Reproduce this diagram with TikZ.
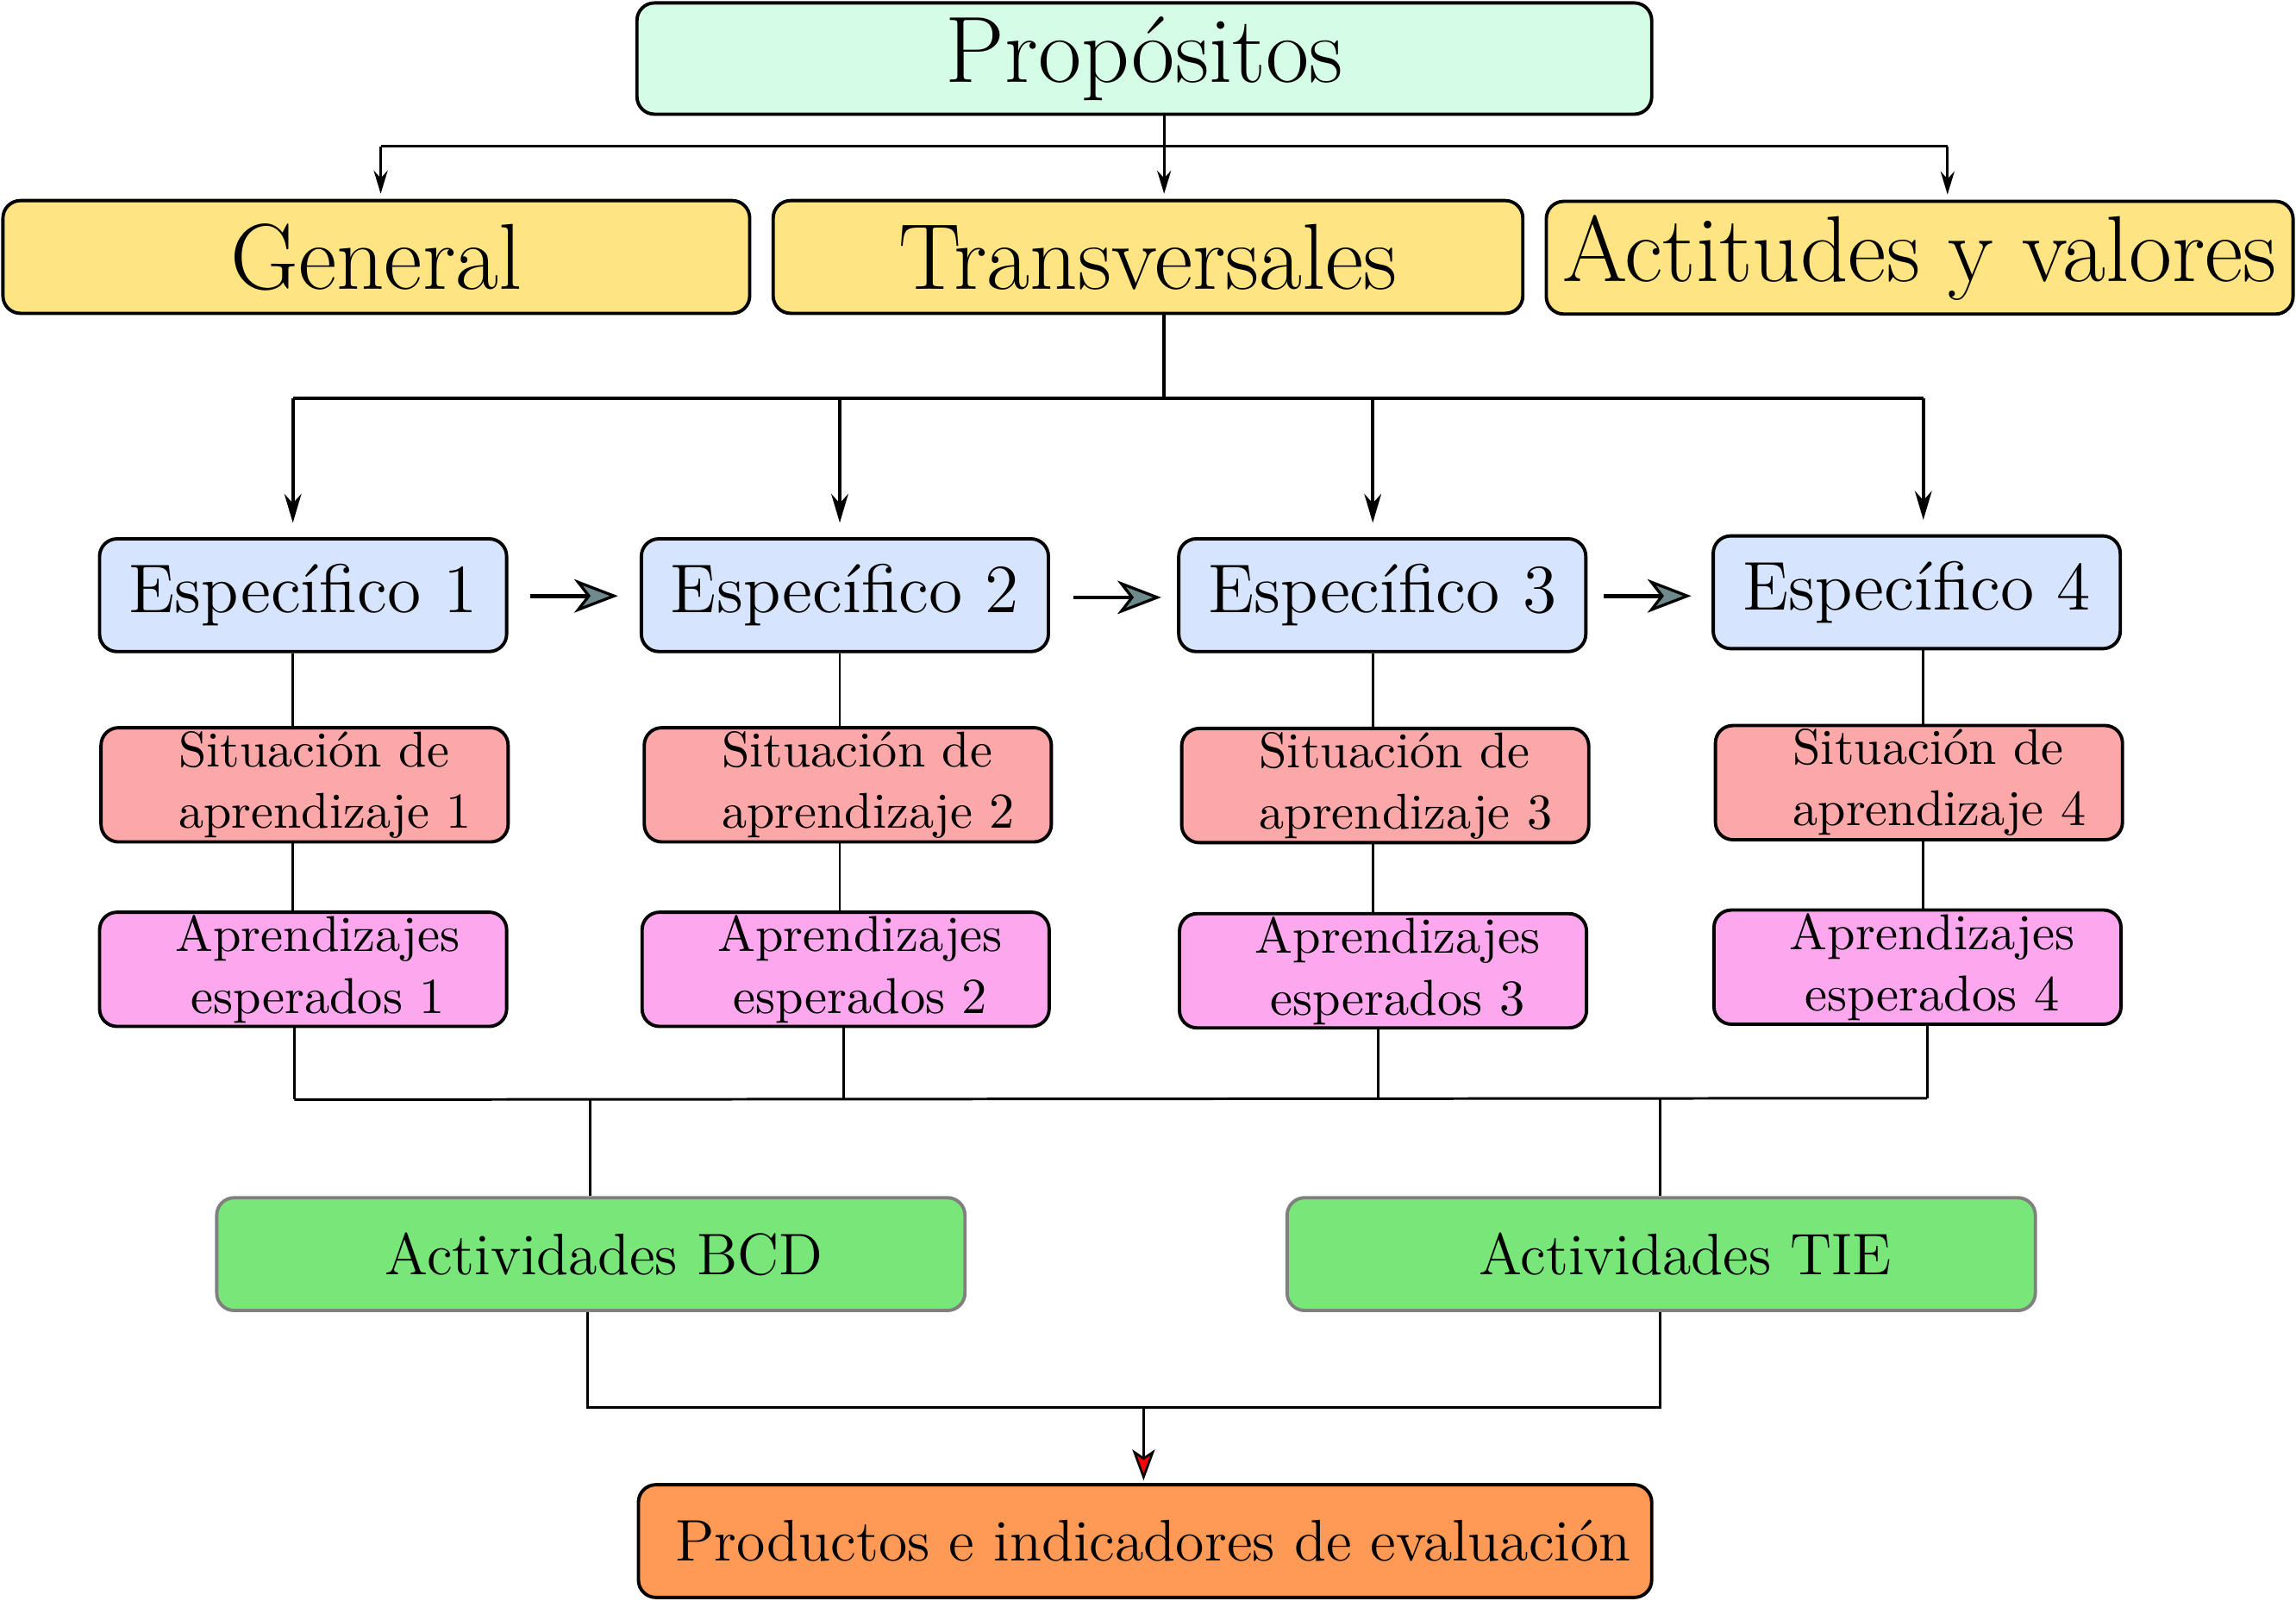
\documentclass[tikz,border=0pt]{standalone}
\usetikzlibrary{arrows.meta}
\definecolor{cprop}{HTML}{D5FDE6}
\definecolor{cyel}{HTML}{FEE482}
\definecolor{cblue}{HTML}{D6E4FD}
\definecolor{csit}{HTML}{FDA8A8}
\definecolor{capr}{HTML}{FDA8EE}
\definecolor{cgreen}{HTML}{78E678}
\definecolor{corange}{HTML}{FE9A55}
\definecolor{carrgray}{HTML}{6E8A8C}
\begin{document}
\begin{tikzpicture}[x=0.1mm,y=-0.1mm,
  bx/.style={draw, rounded corners=3.4pt, line width=0.65pt, inner sep=0pt, align=center},
  topbox/.style={bx, fill=cyel, minimum width=51mm, minimum height=7.7mm, font=\fontsize{18.2}{21}\selectfont},
  espbox/.style={bx, fill=cblue, minimum width=27.8mm, minimum height=7.7mm, font=\fontsize{13.4}{16}\selectfont},
  sitbox/.style={bx, fill=csit, minimum width=27.8mm, minimum height=7.8mm},
  aprbox/.style={bx, fill=capr, minimum width=27.8mm, minimum height=7.8mm},
  actbox/.style={bx, draw=gray, fill=cgreen, minimum width=51.1mm, minimum height=7.7mm},
  txt/.style={inner sep=0pt},
  sittxt/.style={txt, font=\fontsize{9.75}{11.9}\selectfont},
  aprtxt/.style={txt, font=\fontsize{9.8}{12}\selectfont},
  midtxt/.style={txt, font=\fontsize{11.4}{13}\selectfont},
  ln/.style={line width=0.5pt},
  lnb/.style={line width=0.62pt},
  arr/.style={ln, -{Stealth[length=4.5pt,width=2.7pt]}, shorten >=1pt},
  arrb/.style={lnb, -{Stealth[length=5.6pt,width=3.3pt]}, shorten >=2.8pt},
  garr/.style={line width=0.8pt, -{Stealth[length=8.5pt,width=6.5pt,inset=2.5pt,fill=carrgray,line width=0.55pt]}},
  rarr/.style={ln, -{Stealth[length=6pt,width=4.4pt,inset=1.5pt,fill=red,line width=0.45pt]}},
]
\useasboundingbox (0,0) rectangle (1568,1093);

% top level
\node[bx, fill=cprop, minimum width=69.3mm, minimum height=7.6mm, font=\fontsize{18.3}{21}\selectfont] (prop) at (781.5,40) {Propósitos};
\node[topbox] (gen) at (257,175.5) {General};
\node[topbox, minimum width=51.2mm] (trans) at (784,175.5) {Transversales};
\node[topbox] (act) at (1311,176) {Actitudes y valores};

% specific
\node[espbox] (e1) at (207,406.5) {Específico 1};
\node[espbox] (e2) at (577,406.5) {Específico 2};
\node[espbox] (e3) at (944,406.5) {Específico 3};
\node[espbox] (e4) at (1309,404.5) {Específico 4};

% situations
\node[sitbox] (s1) at (208,536) {};
\node[sitbox] (s2) at (579,536) {};
\node[sitbox] (s3) at (946,536.5) {};
\node[sitbox] (s4) at (1310.5,534.5) {};
\node[sittxt, align=left] (s1t) at (222,536) {Situación de\\aprendizaje 1};
\node[sittxt, align=left] (s2t) at (593,536) {Situación de\\aprendizaje 2};
\node[sittxt, align=left] (s3t) at (960,536.5) {Situación de\\aprendizaje 3};
\node[sittxt, align=left] (s4t) at (1324.5,534.5) {Situación de\\aprendizaje 4};

% expected learning
\node[aprbox] (a1) at (207,662) {};
\node[aprbox] (a2) at (577.5,662) {};
\node[aprbox] (a3) at (944.5,663) {};
\node[aprbox] (a4) at (1309.5,660.5) {};
\node[aprtxt, align=center] (a1t) at (217,662) {Aprendizajes\\esperados 1};
\node[aprtxt, align=center] (a2t) at (587.5,662) {Aprendizajes\\esperados 2};
\node[aprtxt, align=center] (a3t) at (954.5,663) {Aprendizajes\\esperados 3};
\node[aprtxt, align=center] (a4t) at (1319.5,660.5) {Aprendizajes\\esperados 4};

% activities
\node[actbox] (bcd) at (403.5,856.5) {};
\node[actbox] (tie) at (1134.5,856.5) {};
\node[midtxt] (bcdt) at (412.5,856.5) {Actividades BCD};
\node[midtxt] (tiet) at (1151,856.5) {Actividades TIE};

% products
\node[bx, fill=corange, minimum width=69.2mm, minimum height=7.7mm] (prod) at (782,1052.5) {};
\node[midtxt] (prodt) at (787.5,1052.5) {Productos e indicadores de evaluación};

% connectors top
\coordinate (h0) at (795,100);
\coordinate (hL) at (260,100);
\coordinate (hR) at (1330,100);
\draw[ln] (prop.south -| h0) -- (h0);
\draw[ln] (hL) -- (hR);
\draw[arr] (hL) -- (hL |- gen.north);
\draw[arr] (h0) -- (h0 |- trans.north);
\draw[arr] (hR) -- (hR |- act.north);

% connectors to specific
\coordinate (v0) at (795,272);
\coordinate (v1) at (200,272);
\coordinate (v2) at (573.5,272);
\coordinate (v3) at (937.5,272);
\coordinate (v4) at (1313.5,272);
\draw[lnb] (trans.south -| v0) -- (v0);
\draw[lnb] (v1) -- (v4);
\draw[arrb] (v1) -- (v1 |- e1.north);
\draw[arrb] (v2) -- (v2 |- e2.north);
\draw[arrb] (v3) -- (v3 |- e3.north);
\draw[arrb] (v4) -- (v4 |- e4.north);

% sequence arrows
\coordinate (g1) at (362,407);
\coordinate (g1e) at (422,407);
\coordinate (g2) at (733,408);
\coordinate (g2e) at (793,408);
\coordinate (g3) at (1095,407);
\coordinate (g3e) at (1155,407);
\draw[garr] (g1) -- (g1e);
\draw[garr] (g2) -- (g2e);
\draw[garr] (g3) -- (g3e);

% vertical links
\draw[ln] (e1.south -| v1) -- (s1.north -| v1);
\draw[ln] (s1.south -| v1) -- (a1.north -| v1);
\draw[ln] (e2.south -| v2) -- (s2.north -| v2);
\draw[ln] (s2.south -| v2) -- (a2.north -| v2);
\draw[ln] (e3.south -| v3) -- (s3.north -| v3);
\draw[ln] (s3.south -| v3) -- (a3.north -| v3);
\draw[ln] (e4.south -| v4) -- (s4.north -| v4);
\draw[ln] (s4.south -| v4) -- (a4.north -| v4);

% collect
\coordinate (b1) at (201,751);
\coordinate (b2) at (576,751);
\coordinate (b3) at (941,751);
\coordinate (b4) at (1316,750);
\draw[ln] (a1.south -| b1) -- (b1);
\draw[ln] (a2.south -| b2) -- (b2);
\draw[ln] (a3.south -| b3) -- (b3);
\draw[ln] (a4.south -| b4) -- (b4);
\draw[ln] (b1) -- (b4);
\coordinate (bb) at (403,751);
\coordinate (bt) at (1134,750.5);
\draw[ln] (bb) -- (bb |- bcd.north);
\draw[ln] (bt) -- (bt |- tie.north);

% to products
\coordinate (dL) at (401,961);
\coordinate (dR) at (1134,961);
\coordinate (dM) at (781,961);
\coordinate (dMe) at (781,1011);
\draw[ln] (bcd.south -| dL) -- (dL) -- (dR) -- (tie.south -| dR);
\draw[rarr] (dM) -- (dMe);
\end{tikzpicture}
\end{document}
